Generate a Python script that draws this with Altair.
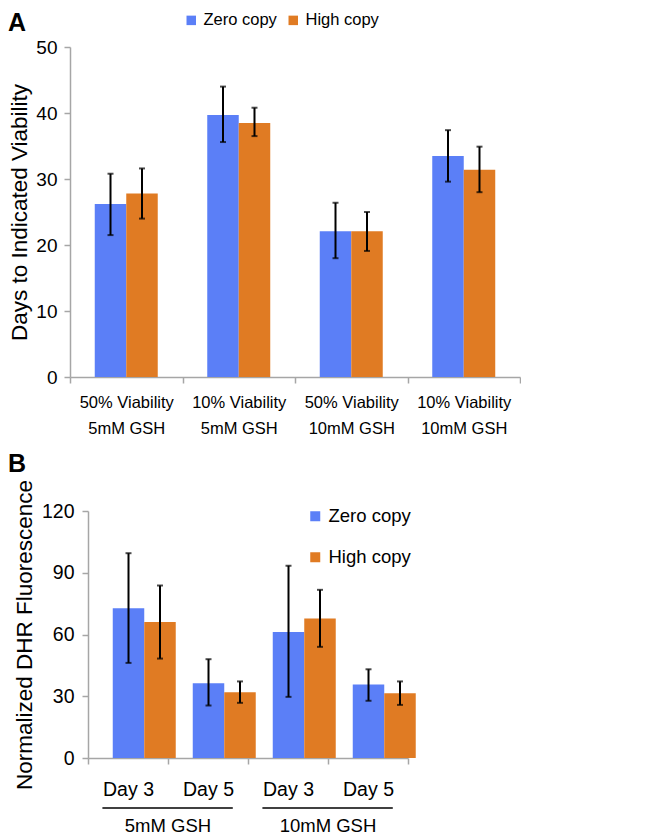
import altair as alt
import pandas as pd

# ---------------- data ----------------
series = ["Zero copy", "High copy"]
colors = ["#5B7FF7", "#E07B23"]

a_cats = ["50% Viability|5mM GSH", "10% Viability|5mM GSH",
          "50% Viability|10mM GSH", "10% Viability|10mM GSH"]
a_zero = [26.2, 39.7, 22.1, 33.5]
a_zero_lo = [21.5, 35.6, 18.0, 29.6]
a_zero_hi = [30.8, 44.0, 26.4, 37.4]
a_high = [27.8, 38.5, 22.1, 31.4]
a_high_lo = [24.0, 36.5, 19.1, 28.0]
a_high_hi = [31.6, 40.8, 25.0, 34.9]
a_ticks = [0, 10, 20, 30, 40, 50]

b_cats = ["5mM GSH|Day 3", "5mM GSH|Day 5", "10mM GSH|Day 3", "10mM GSH|Day 5"]
b_zero = [72.7, 36.3, 61.2, 35.7]
b_zero_lo = [46.2, 25.5, 29.7, 27.8]
b_zero_hi = [99.5, 48.0, 93.4, 43.1]
b_high = [66.1, 32.0, 67.8, 31.5]
b_high_lo = [48.3, 26.8, 54.0, 25.8]
b_high_hi = [83.8, 37.2, 81.7, 37.2]
b_ticks = [0, 30, 60, 90, 120]
b_groups = ["5mM GSH", "10mM GSH"]
b_group_start = ["5mM GSH|Day 3", "10mM GSH|Day 3"]
b_group_end = ["5mM GSH|Day 5", "10mM GSH|Day 5"]

panel_letters = ["A", "B"]


def build(cats, zero, zlo, zhi, high, hlo, hhi):
    rows = []
    for i, c in enumerate(cats):
        rows.append(dict(cat=c, series=series[0], value=zero[i], lo=zlo[i], hi=zhi[i]))
        rows.append(dict(cat=c, series=series[1], value=high[i], lo=hlo[i], hi=hhi[i]))
    return pd.DataFrame(rows)


df_a = build(a_cats, a_zero, a_zero_lo, a_zero_hi, a_high, a_high_lo, a_high_hi)
df_b = build(b_cats, b_zero, b_zero_lo, b_zero_hi, b_high, b_high_lo, b_high_hi)
df_g = pd.DataFrame(dict(group=b_groups, start=b_group_start, end=b_group_end))

SANS = "Liberation Sans"
GRAY = "#A6A6A6"

color_scale = alt.Scale(domain=series, range=colors)


def letter(ch, dx, dy):
    return alt.Chart(pd.DataFrame({"t": [ch]})).mark_text(
        font=SANS, fontSize=25, fontWeight="bold", color="black",
        align="left", baseline="alphabetic").encode(
        x=alt.value(dx), y=alt.value(dy), text="t:N")


# ---------------- panel A ----------------
WA, HA = 450, 330
xa = alt.X("cat:N", scale=alt.Scale(domain=a_cats, paddingInner=0, paddingOuter=0),
           axis=alt.Axis(title=None, labelExpr="split(datum.label, '|')", labelAngle=0,
                         tickBand="extent", labelFont=SANS, labelFontSize=16.5,
                         labelLineHeight=26, labelPadding=11, tickSize=6,
                         domainColor=GRAY, tickColor=GRAY, labelColor="black",
                         domainWidth=1.5, tickWidth=1.5))
xoa = alt.XOffset("series:N", sort=series, scale=alt.Scale(paddingOuter=0.786, paddingInner=0))
ya = alt.Y("value:Q", scale=alt.Scale(domain=[0, 50]),
           axis=alt.Axis(values=a_ticks, title="Days to Indicated Viability",
                         titleFont=SANS, titleFontSize=22.5, titleFontWeight="normal",
                         titleColor="black", titlePadding=4,
                         labelFont=SANS, labelFontSize=19, labelColor="black",
                         labelPadding=7, tickSize=6, domainColor=GRAY, tickColor=GRAY,
                         domainWidth=1.5, tickWidth=1.5))

base_a = alt.Chart(df_a).encode(x=xa, xOffset=xoa)
bars_a = base_a.mark_bar().encode(
    y=ya,
    color=alt.Color("series:N", sort=series, scale=color_scale,
                    legend=alt.Legend(title=None, orient="none", direction="horizontal",
                                      legendX=113, legendY=-35, symbolType="square",
                                      symbolSize=90, symbolStrokeWidth=0,
                                      labelFont=SANS, labelFontSize=16.5,
                                      labelColor="black", columnPadding=8,
                                      labelOffset=4)))
rule_a = base_a.mark_rule(color="black", strokeWidth=2).encode(y="lo:Q", y2="hi:Q")
caplo_a = base_a.mark_tick(color="black", thickness=2, size=6).encode(y="lo:Q")
caphi_a = base_a.mark_tick(color="black", thickness=2, size=6).encode(y="hi:Q")

panel_a = alt.layer(bars_a, rule_a, caplo_a, caphi_a,
                    letter(panel_letters[0], -62, -16)).properties(width=WA, height=HA)

# ---------------- panel B ----------------
SHIFT = 18          # panel B's plot area starts further right than panel A's
WB, HB = 320, 247
xb = alt.X("cat:N", scale=alt.Scale(domain=b_cats, paddingInner=0, paddingOuter=0,
                                    range=[SHIFT, SHIFT + WB]),
           axis=alt.Axis(title=None, labelExpr="split(datum.label, '|')[1]", labelAngle=0,
                         tickBand="extent", labelFont=SANS, labelFontSize=19.5,
                         labelPadding=16, tickSize=6,
                         domainColor=GRAY, tickColor=GRAY, labelColor="black",
                         domainWidth=1.5, tickWidth=1.5))
xob = alt.XOffset("series:N", sort=series, scale=alt.Scale(paddingOuter=0.818, paddingInner=0))
yb = alt.Y("value:Q", scale=alt.Scale(domain=[0, 120]),
           axis=alt.Axis(values=b_ticks, title="Normalized DHR Fluorescence",
                         titleFont=SANS, titleFontSize=22.5, titleFontWeight="normal",
                         titleColor="black", titlePadding=5, offset=-SHIFT,
                         labelFont=SANS, labelFontSize=19.5, labelColor="black",
                         labelPadding=8, tickSize=6, domainColor=GRAY, tickColor=GRAY,
                         domainWidth=1.5, tickWidth=1.5))

base_b = alt.Chart(df_b).encode(x=xb, xOffset=xob)
bars_b = base_b.mark_bar().encode(
    y=yb,
    color=alt.Color("series:N", sort=series, scale=color_scale,
                    legend=alt.Legend(title=None, orient="none", direction="vertical",
                                      legendX=236, legendY=-4, symbolType="square",
                                      symbolSize=100, symbolStrokeWidth=0,
                                      labelFont=SANS, labelFontSize=18.5,
                                      labelColor="black", rowPadding=22,
                                      labelOffset=4)))
rule_b = base_b.mark_rule(color="black", strokeWidth=2).encode(y="lo:Q", y2="hi:Q")
caplo_b = base_b.mark_tick(color="black", thickness=2, size=6).encode(y="lo:Q")
caphi_b = base_b.mark_tick(color="black", thickness=2, size=6).encode(y="hi:Q")

under = alt.Chart(df_g).mark_rule(color="black", strokeWidth=1.5).encode(
    x=alt.X("start:N", bandPosition=0.18),
    x2=alt.X2("end:N", bandPosition=0.81),
    y=alt.value(HB + 50))
glabel = alt.Chart(df_g).mark_text(font=SANS, fontSize=18.5, color="black",
                                   baseline="alphabetic", align="center").encode(
    x=alt.X("start:N", bandPosition=1.0),
    y=alt.value(HB + 74),
    text="group:N")

panel_b = alt.layer(bars_b, rule_b, caplo_b, caphi_b, under, glabel,
                    letter(panel_letters[1], -62, -39)).properties(width=WB + SHIFT, height=HB)

chart = alt.vconcat(panel_a, panel_b, spacing=15).resolve_legend(
    color="independent").properties(padding={"top": 3, "left": 0, "right": 0, "bottom": 0}
).configure_view(stroke=None).configure_axis(grid=False)

chart.save("out.html", embed_options={"renderer": "svg", "actions": False})
